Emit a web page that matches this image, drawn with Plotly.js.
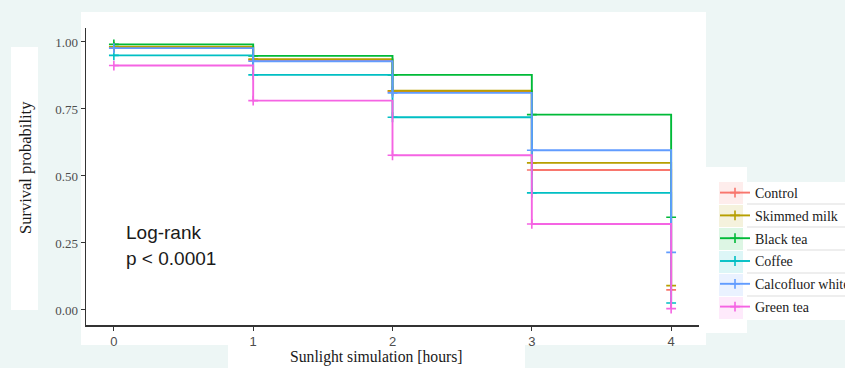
<!DOCTYPE html>
<html>
<head>
<meta charset="utf-8">
<script src="https://cdn.plot.ly/plotly-3.0.1.min.js"></script>
<style>
  html, body { margin: 0; padding: 0; background: #edf6f5; }
  #chart { width: 845px; height: 368px; }
</style>
</head>
<body>
<div id="chart"></div>
<script>
// ---- data ----
const times = [0, 1, 2, 3, 4];
const groups = ["Control", "Skimmed milk", "Black tea", "Coffee", "Calcofluor white", "Green tea"];
const control = [0.980, 0.932, 0.815, 0.522, 0.075];
const skimmedMilk = [0.982, 0.936, 0.818, 0.549, 0.091];
const blackTea = [0.991, 0.948, 0.877, 0.729, 0.346];
const coffee = [0.950, 0.877, 0.719, 0.437, 0.026];
const calcofluorWhite = [0.977, 0.928, 0.810, 0.596, 0.215];
const greenTea = [0.912, 0.781, 0.577, 0.321, 0.005];
const xTicks = [0, 1, 2, 3, 4];
const yTicks = [0, 0.25, 0.5, 0.75, 1];
const yTickLabels = ["0.00", "0.25", "0.50", "0.75", "1.00"];

const series = [control, skimmedMilk, blackTea, coffee, calcofluorWhite, greenTea];
const colors = ["#F8766D", "#B79F00", "#00BA38", "#00BFC4", "#619CFF", "#F564E3"];

// ---- layout geometry (pixels) ----
const W = 845, H = 368;
const L = 86, R = 699, T = 28, B = 325;
const px = x => (x - L) / (R - L);
const py = y => (B - y) / (B - T);

function rect(x0, y0, x1, y1, fill) {
  return {type: "rect", xref: "paper", yref: "paper", x0: px(x0), x1: px(x1),
          y0: py(y1), y1: py(y0), fillcolor: fill, line: {width: 0}, layer: "below"};
}
function hline(x0, x1, y, color) {
  return {type: "line", xref: "paper", yref: "paper", x0: px(x0), x1: px(x1),
          y0: py(y), y1: py(y), line: {color: color, width: 1}, layer: "below"};
}

const traces = series.map((vals, i) => ({
  type: "scatter",
  mode: "lines+markers",
  x: times,
  y: vals,
  name: groups[i],
  legendgroup: "g" + i,
  line: {color: colors[i], width: 1.9, shape: "hv"},
  marker: {symbol: "cross-thin", size: 7, line: {color: colors[i], width: 1.6}, color: colors[i]},
  hoverinfo: "x+y+name"
}));

const shapes = [
  rect(81, 12, 706, 345, "#ffffff"),
  rect(228, 345, 525, 368, "#ffffff"),
  rect(11, 47, 38, 310, "#ffffff"),
  rect(706, 167, 747, 333, "#ffffff"),
  rect(747, 182, 845, 320, "#ffffff")
];
// legend key backgrounds and separators
const rowCenters = [193, 216, 239, 262, 285, 308];
rowCenters.forEach((c, i) => {
  shapes.push(rect(719, c - 11, 743, c + 11, colors[i] + "22"));
});
[204, 227, 250, 273, 296].forEach(y => shapes.push(hline(747, 845, y, "#dddddd")));

const layout = {
  width: W, height: H,
  paper_bgcolor: "rgba(0,0,0,0)",
  plot_bgcolor: "rgba(0,0,0,0)",
  margin: {l: L, r: W - R, t: T, b: H - B, pad: 0, autoexpand: false},
  showlegend: true,
  legend: {
    x: px(715), xanchor: "left", y: py(177), yanchor: "top",
    bgcolor: "rgba(0,0,0,0)",
    font: {family: "Liberation Serif, Times New Roman, serif", size: 14, color: "#1a1a1a"},
    tracegroupgap: 1.6, itemwidth: 30
  },
  xaxis: {
    range: [-0.2, 4.2], tickvals: xTicks, ticktext: xTicks.map(String),
    showgrid: false, zeroline: false, showline: true, linecolor: "#333333", linewidth: 1.5,
    ticks: "outside", ticklen: 4, tickwidth: 1, tickcolor: "#333333",
    tickfont: {family: "Liberation Sans, Arial, sans-serif", size: 13, color: "#4d4d4d"}
  },
  yaxis: {
    range: [-0.056, 1.052], tickvals: yTicks, ticktext: yTickLabels,
    showgrid: false, zeroline: false, showline: true, linecolor: "#333333", linewidth: 1.5,
    ticks: "outside", ticklen: 4, tickwidth: 1, tickcolor: "#333333",
    tickfont: {family: "Liberation Serif, Times New Roman, serif", size: 13, color: "#4d4d4d"}
  },
  shapes: shapes,
  annotations: [
    {xref: "paper", yref: "paper", x: px(124), y: py(232), xanchor: "left", yanchor: "middle",
     text: "Log-rank", showarrow: false,
     font: {family: "Liberation Sans, Arial, sans-serif", size: 19, color: "#1a1a1a"}},
    {xref: "paper", yref: "paper", x: px(124), y: py(258), xanchor: "left", yanchor: "middle",
     text: "p < 0.0001", showarrow: false,
     font: {family: "Liberation Sans, Arial, sans-serif", size: 19, color: "#1a1a1a"}},
    {xref: "paper", yref: "paper", x: px(376), y: py(357), xanchor: "center", yanchor: "middle",
     text: "Sunlight simulation [hours]", showarrow: false,
     font: {family: "Liberation Serif, Times New Roman, serif", size: 15.7, color: "#1a1a1a"}},
    {xref: "paper", yref: "paper", x: px(25), y: py(168), xanchor: "center", yanchor: "middle",
     text: "Survival probability", showarrow: false, textangle: -90,
     font: {family: "Liberation Serif, Times New Roman, serif", size: 16.5, color: "#1a1a1a"}}
  ]
};

Plotly.newPlot("chart", traces, layout, {displayModeBar: false, staticPlot: true});
</script>
</body>
</html>
